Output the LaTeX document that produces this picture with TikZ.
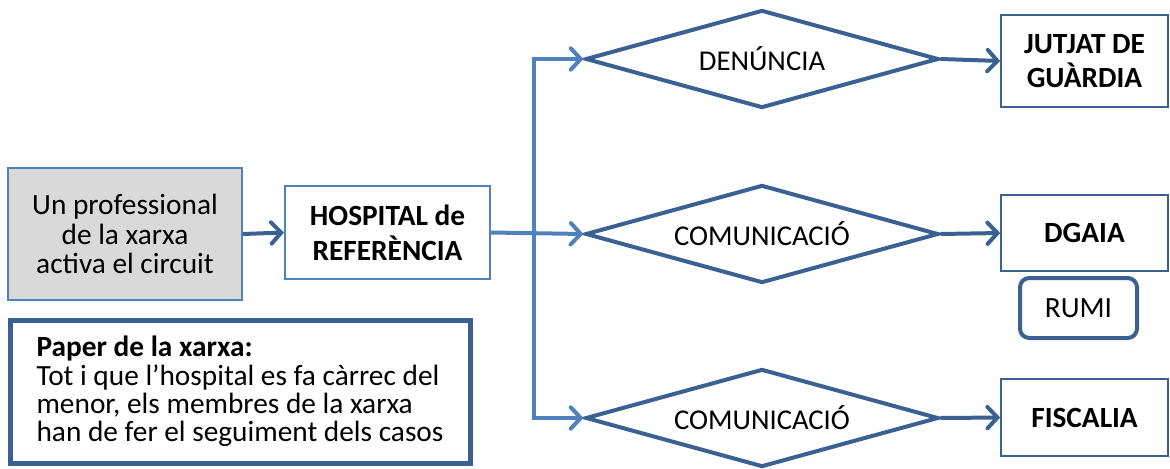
\documentclass[tikz,border=0pt]{standalone}
\usepackage{fontspec}
\setmainfont{Carlito}
\usetikzlibrary{arrows.meta,shapes.geometric}
\definecolor{lblue}{HTML}{4F81BD}
\definecolor{dblue}{HTML}{3B6193}
\definecolor{gfill}{HTML}{D9D9D9}
\tikzset{
  lbox/.style={draw=lblue,line width=1.5pt,inner sep=0pt,align=center,font=\fontsize{22}{22}\selectfont},
  rbox/.style={draw=dblue,line width=1.2pt,inner sep=0pt,align=center,font=\fontsize{22}{26}\selectfont\bfseries,minimum width=125.25pt},
  dia/.style={draw=dblue,line width=3pt,shape=diamond,aspect=3.6,inner sep=0pt,minimum width=264.75pt,minimum height=73.5pt,font=\fontsize{21.5}{22}\selectfont},
  darr/.style={draw=dblue,line width=3pt,-{Straight Barb[length=7.5pt,width=16pt,line cap=round]}},
  larr/.style={draw=lblue,line width=3pt,-{Straight Barb[length=7.5pt,width=16pt,line cap=round]}},
}
\begin{document}
\begin{tikzpicture}[x=0.75pt,y=-0.75pt]
\useasboundingbox (0,0) rectangle (1170,468);
% left boxes
\node[lbox,fill=gfill,minimum width=175.5pt,minimum height=99pt] (prof) at (125,234) {Un professional\\de la xarxa\\activa el circuit};
\node[lbox,minimum width=153.75pt,minimum height=69.75pt,font=\fontsize{22}{26}\selectfont\bfseries] (hosp) at (387.5,232.5) {HOSPITAL de\\REFERÈNCIA};
% diamonds
\node[dia] (d1) at (762,59) {DENÚNCIA};
\node[dia] (d2) at (762,234) {COMUNICACIÓ};
\node[dia] (d3) at (762,418) {COMUNICACIÓ};
% right boxes
\node[rbox,minimum height=69pt] (jut) at (1084.5,61) {JUTJAT DE\\GUÀRDIA};
\node[rbox,minimum height=57pt] (dga) at (1084.5,233) {DGAIA};
\node[draw=dblue,line width=3pt,rounded corners=7pt,minimum width=87.75pt,minimum height=45pt,inner sep=0pt,font=\fontsize{22}{22}\selectfont] (rumi) at (1078.5,308) {RUMI};
\node[rbox,minimum height=57.75pt] (fis) at (1084.5,417.5) {FISCALIA};
% paper box
\node[draw=dblue,line width=3.75pt,minimum width=345pt,minimum height=107.25pt,inner sep=0pt,align=left,font=\fontsize{22}{21.3}\selectfont] (paper) at (240,391.5) {\textbf{Paper de la xarxa:}\\Tot i que l’hospital es fa càrrec del\\menor, els membres de la xarxa\\han de fer el seguiment dels casos};
% connectors
\coordinate (jn) at (534,233);
\draw[darr] (prof.east) -- (hosp.west);
\draw[larr] (hosp.east) -- (d2.west);
\draw[larr] (jn) |- (d1.west);
\draw[larr] (jn) |- (d3.west);
\draw[darr] (d1.east) -- (jut.west);
\draw[darr] (d2.east) -- (dga.west);
\draw[darr] (d3.east) -- (fis.west);
\end{tikzpicture}
\end{document}
